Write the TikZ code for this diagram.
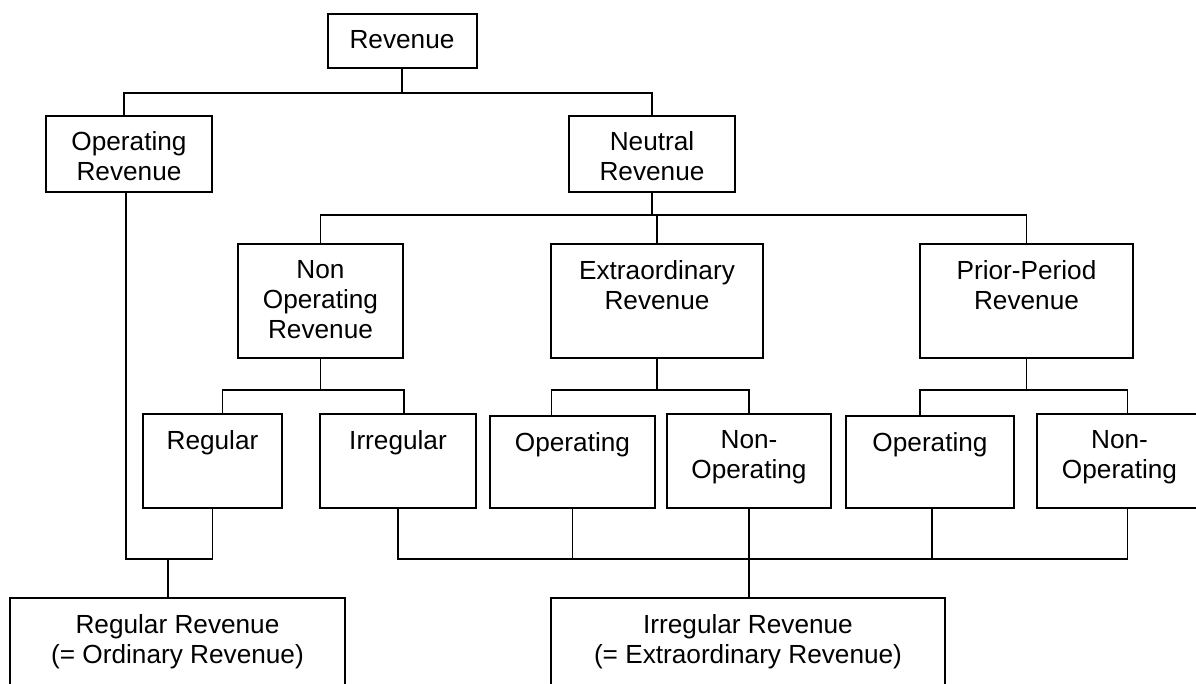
\documentclass[tikz,border=0pt]{standalone}
\usepackage{fontspec}
\setmainfont{Liberation Sans}
\usetikzlibrary{positioning}

\begin{document}
\begin{tikzpicture}[x=1pt, y=-1pt,
		box/.style={shape=rectangle, draw, line width=2pt, inner sep=0pt},
		lbl/.style={align=center, inner sep=0pt, font=\fontsize{26.2pt}{30pt}\selectfont},
		link/.style={line width=1.6pt}]
			\useasboundingbox (0, 0) rectangle (1196, 684);
			% first two levels
			\node[box, minimum width=149pt, minimum height=54pt](rev) at (402, 41){};
			\node[lbl, below=17pt of rev.north](revT){Revenue};
			\node[box, minimum width=166pt, minimum height=76pt](oprev) at (129, 154){};
			\node[lbl, below=16pt of oprev.north](oprevT){Operating\\Revenue};
			\node[box, minimum width=166pt, minimum height=76pt](neurev) at (652, 154){};
			\node[lbl, below=16pt of neurev.north](neurevT){Neutral\\Revenue};
			% neutral revenue
			\node[box, minimum width=165pt, minimum height=114pt](nonop) at (320.5, 301){};
			\node[lbl, below=17pt of nonop.north](nonopT){Non\\Operating\\Revenue};
			\node[box, minimum width=212pt, minimum height=114pt](extra) at (657, 301){};
			\node[lbl, below=17pt of extra.north](extraT){Extraordinary\\Revenue};
			\node[box, minimum width=213pt, minimum height=114pt](prior) at (1026.5, 301){};
			\node[lbl, below=17pt of prior.north](priorT){Prior-Period\\Revenue};
			% fourth level
			\node[box, minimum width=139pt, minimum height=94pt](reg) at (212.5, 461){};
			\node[lbl, below=17pt of reg.north](regT){Regular};
			\node[box, minimum width=156pt, minimum height=94pt](irr) at (398, 461){};
			\node[lbl, below=17pt of irr.north](irrT){Irregular};
			\node[box, minimum width=165pt, minimum height=92pt](extop) at (572.5, 462){};
			\node[lbl, below=17pt of extop.north](extopT){Operating};
			\node[box, minimum width=164pt, minimum height=94pt](extnon) at (749, 461){};
			\node[lbl, below=17pt of extnon.north](extnonT){Non-\\Operating};
			\node[box, minimum width=168pt, minimum height=92pt](priop) at (930, 462){};
			\node[lbl, below=17pt of priop.north](priopT){Operating};
			\node[box, minimum width=165pt, minimum height=94pt](prinon) at (1119.5, 461){};
			\node[lbl, below=17pt of prinon.north](prinonT){Non-\\Operating};
			% results
			\node[box, minimum width=335pt, minimum height=100pt](regrev) at (177.5, 648){};
			\node[lbl, below=17pt of regrev.north](regrevT){Regular Revenue\\(= Ordinary Revenue)};
			\node[box, minimum width=394pt, minimum height=100pt](irrrev) at (748, 648){};
			\node[lbl, below=17pt of irrrev.north](irrrevT){Irregular Revenue\\(= Extraordinary Revenue)};
			% tree lines
			\draw[link] (rev.south) -- ++(0, 24) -| ([xshift=-5pt]oprev.north);
			\draw[link] (rev.south) -- ++(0, 24) -| (neurev.north);
			\draw[link] (neurev.south) -- ++(0, 22) -| (nonop.north);
			\draw[link] (neurev.south) -- ++(0, 22) -| (extra.north);
			\draw[link] (neurev.south) -- ++(0, 22) -| (prior.north);
			\draw[link] (nonop.south) -- ++(0, 31) -| ([xshift=10pt]reg.north);
			\draw[link] (nonop.south) -- ++(0, 31) -| ([xshift=6pt]irr.north);
			\draw[link] (extra.south) -- ++(0, 31) -| ([xshift=-21pt]extop.north);
			\draw[link] (extra.south) -- ++(0, 31) -| (extnon.north);
			\draw[link] (prior.south) -- ++(0, 31) -| ([xshift=-10pt]priop.north);
			\draw[link] (prior.south) -- ++(0, 31) -| ([xshift=8pt]prinon.north);
			% joining lines
			\draw[link] ([xshift=-3pt]oprev.south) -- ++(0, 366) -| (reg.south);
			\coordinate (regjoin) at (168, 558);
			\draw[link] (regjoin) -- (regjoin |- regrev.north);
			\draw[link] (irr.south) -- ++(0, 50) -| ([xshift=8pt]prinon.south);
			\draw[link] (extop.south) -- ++(0, 50);
			\draw[link] ([xshift=2pt]priop.south) -- ++(0, 50);
			\draw[link] (extnon.south) -- (extnon.south |- irrrev.north);
		\end{tikzpicture}
\end{document}
